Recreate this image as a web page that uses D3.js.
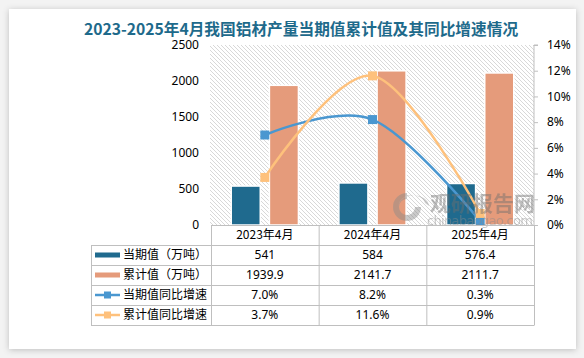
<!DOCTYPE html>
<html><head><meta charset="utf-8">
<script src="https://cdn.jsdelivr.net/npm/d3@7"></script>
<style>
html,body{margin:0;padding:0;background:#f3f3f3;}
svg{display:block;font-family:"Noto Sans CJK SC","Noto Sans",sans-serif;}
</style></head><body>
<svg id="c" width="584" height="358"></svg>
<script>
const categories = ["2023年4月", "2024年4月", "2025年4月"];
const seriesNames = ["当期值（万吨）", "累计值（万吨）", "当期值同比增速", "累计值同比增速"];
const currentValues = [541, 584, 576.4];
const cumulativeValues = [1939.9, 2141.7, 2111.7];
const currentGrowth = [7.0, 8.2, 0.3];
const cumulativeGrowth = [3.7, 11.6, 0.9];
const currentLabels = ["541", "584", "576.4"];
const cumulativeLabels = ["1939.9", "2141.7", "2111.7"];
const currentGrowthLabels = ["7.0%", "8.2%", "0.3%"];
const cumulativeGrowthLabels = ["3.7%", "11.6%", "0.9%"];
const leftTicks = [0, 500, 1000, 1500, 2000, 2500];
const rightTicks = [0, 2, 4, 6, 8, 10, 12, 14];
const title = "2023-2025年4月我国铝材产量当期值累计值及其同比增速情况";

const colors = {barA:"#1f6a8e", barB:"#e59b7b", lineA:"#4a97d0", lineB:"#fec17c"};
const svg = d3.select("#c");
const defs = svg.append("defs");
const f = defs.append("filter").attr("id","sh").attr("x","-5%").attr("y","-5%").attr("width","110%").attr("height","110%");
f.append("feDropShadow").attr("dx",0).attr("dy",1).attr("stdDeviation",3).attr("flood-color","#000").attr("flood-opacity",0.22);
const pat = defs.append("pattern").attr("id","hatch").attr("patternUnits","userSpaceOnUse").attr("width",4).attr("height",4);
pat.append("path").attr("d","M-1,-1 L5,5 M-1,3 L1,5 M3,-1 L5,1").attr("stroke","#d4d4d4").attr("stroke-width",0.9);

// card
svg.append("rect").attr("x",9).attr("y",9).attr("width",567).attr("height",340).attr("fill","#fff").attr("filter","url(#sh)");

// title
svg.append("text").attr("x",301).attr("y",35).attr("text-anchor","middle")
  .attr("font-size",15.7).attr("font-weight","bold").attr("fill","#1e6a8b").text(title);

const plot = {l:211, r:534, t:45, b:225};
const x0 = d3.scaleBand().domain(categories).range([plot.l, plot.r]).padding(0);
const x1 = d3.scaleBand().domain(["a","b"]).range([0, x0.bandwidth()]).paddingInner(0.24).paddingOuter(0.53);
const yL = d3.scaleLinear().domain([0,2500]).range([plot.b, plot.t]);
const yR = d3.scaleLinear().domain([0,14]).range([plot.b, plot.t]);

// hatch background
svg.append("rect").attr("x",plot.l-1).attr("y",plot.t).attr("width",plot.r-plot.l+1).attr("height",plot.b-plot.t).attr("fill","url(#hatch)");

// left axis labels
const gl = svg.append("g").attr("transform",`translate(${plot.l-12},0)`)
  .call(d3.axisLeft(yL).tickValues(leftTicks).tickSize(0).tickPadding(0).tickFormat(d3.format("d")));
gl.select(".domain").remove();
gl.selectAll("text").attr("font-size",12).attr("fill","#000").attr("font-family","'Noto Sans','DejaVu Sans',sans-serif");

// right axis
const gr = svg.append("g").attr("transform",`translate(${plot.r},0)`)
  .call(d3.axisRight(yR).tickValues(rightTicks).tickSize(4).tickPadding(9).tickFormat(d => d + "%"));
gr.select(".domain").attr("stroke","#bfbfbf").attr("d",`M4,${plot.t}H0V${plot.b}`);
gr.selectAll("line").attr("stroke","#bfbfbf");
gr.selectAll("text").attr("font-size",12).attr("fill","#000").attr("font-family","'Noto Sans','DejaVu Sans',sans-serif");

// bars
const bars = svg.append("g");
[[currentValues,"a",colors.barA],[cumulativeValues,"b",colors.barB]].forEach(([vals,key,col]) => {
  bars.selectAll(null).data(vals).join("rect")
    .attr("x",(d,i)=>x0(categories[i])+x1(key))
    .attr("y",d=>yL(d)).attr("width",x1.bandwidth()).attr("height",d=>yL(0)-yL(d))
    .attr("fill",col).attr("stroke","#fff").attr("stroke-width",1.5);
});

// lines
const cx = i => x0(categories[i]) + x0.bandwidth()/2;
const line = d3.line().x((d,i)=>cx(i)).y(d=>yR(d)).curve(d3.curveCardinal.tension(0));
[[currentGrowth,colors.lineA],[cumulativeGrowth,colors.lineB]].forEach(([vals,col]) => {
  svg.append("path").attr("d",line(vals)).attr("fill","none").attr("stroke",col).attr("stroke-width",2.5);
  svg.selectAll(null).data(vals).join("rect")
    .attr("x",(d,i)=>cx(i)-4.5).attr("y",d=>yR(d)-4.5).attr("width",9).attr("height",9).attr("fill",col);
});

// watermark
const wm = svg.append("g").attr("opacity",0.45).attr("fill","#7a7a7a");
wm.append("path").attr("d","M407,193 a14,14 0 1,0 14,14 h-6 a8,8 0 1,1 -8,-8 z").attr("fill","#8a8a8a");
wm.append("path").attr("d","M399,207 a8,6 0 0,1 26,-4 l4,3 a12,9 0 0,0 -30,1z").attr("fill","#9a9a9a");
wm.append("text").attr("x",430).attr("y",211).attr("font-size",21).attr("font-weight","bold").attr("fill","#6f6f6f").text("观研报告网");
wm.append("text").attr("x",427).attr("y",225).attr("font-size",13).attr("font-family","'DejaVu Sans',sans-serif").attr("fill","#8a8a8a").attr("textLength",106).text("chinabaogao.com");

// data table
const rowH = 20;
const tableLeft = 91;
const rowsTop = plot.b + rowH;
const tableRows = [
  {name:seriesNames[0], labels:currentLabels, key:"bar", col:colors.barA},
  {name:seriesNames[1], labels:cumulativeLabels, key:"bar", col:colors.barB},
  {name:seriesNames[2], labels:currentGrowthLabels, key:"line", col:colors.lineA},
  {name:seriesNames[3], labels:cumulativeGrowthLabels, key:"line", col:colors.lineB}
];
const tg = svg.append("g");
const gridCol = "#bfbfbf";
tg.append("line").attr("x1",plot.l).attr("x2",plot.r).attr("y1",plot.b+0.5).attr("y2",plot.b+0.5).attr("stroke",gridCol);
for (let k=0;k<=tableRows.length;k++){
  const y = rowsTop + k*rowH + 0.5;
  tg.append("line").attr("x1",tableLeft).attr("x2",plot.r).attr("y1",y).attr("y2",y).attr("stroke",gridCol);
}
const tableBottom = rowsTop + tableRows.length*rowH;
categories.concat(["end"]).forEach((c,i) => {
  const x = (i<categories.length ? x0(c) : plot.r) + 0.5;
  tg.append("line").attr("x1",x).attr("x2",x).attr("y1",plot.b).attr("y2",tableBottom+0.5).attr("stroke",gridCol);
});
tg.append("line").attr("x1",tableLeft+0.5).attr("x2",tableLeft+0.5).attr("y1",rowsTop).attr("y2",tableBottom+0.5).attr("stroke",gridCol);
categories.forEach(c => {
  tg.append("text").attr("x",x0(c)+x0.bandwidth()/2).attr("y",plot.b+rowH/2).attr("dy","0.35em")
    .attr("text-anchor","middle").attr("font-size",12).attr("fill","#000").text(c);
});
tableRows.forEach((r,k) => {
  const yc = rowsTop + k*rowH + rowH/2;
  if (r.key==="bar") {
    tg.append("rect").attr("x",95).attr("y",yc-2.5).attr("width",25).attr("height",5).attr("fill",r.col);
  } else {
    tg.append("line").attr("x1",95).attr("x2",120).attr("y1",yc).attr("y2",yc).attr("stroke",r.col).attr("stroke-width",2.5);
    tg.append("rect").attr("x",104).attr("y",yc-3.5).attr("width",7).attr("height",7).attr("fill",r.col);
  }
  tg.append("text").attr("x",123).attr("y",yc).attr("dy","0.35em").attr("font-size",12).attr("fill","#000").text(r.name);
  r.labels.forEach((lab,i) => {
    tg.append("text").attr("x",x0(categories[i])+x0.bandwidth()/2).attr("y",yc).attr("dy","0.35em")
      .attr("text-anchor","middle").attr("font-size",12).attr("fill","#000").attr("font-family","'Noto Sans','DejaVu Sans',sans-serif").text(lab);
  });
});
</script></body></html>
